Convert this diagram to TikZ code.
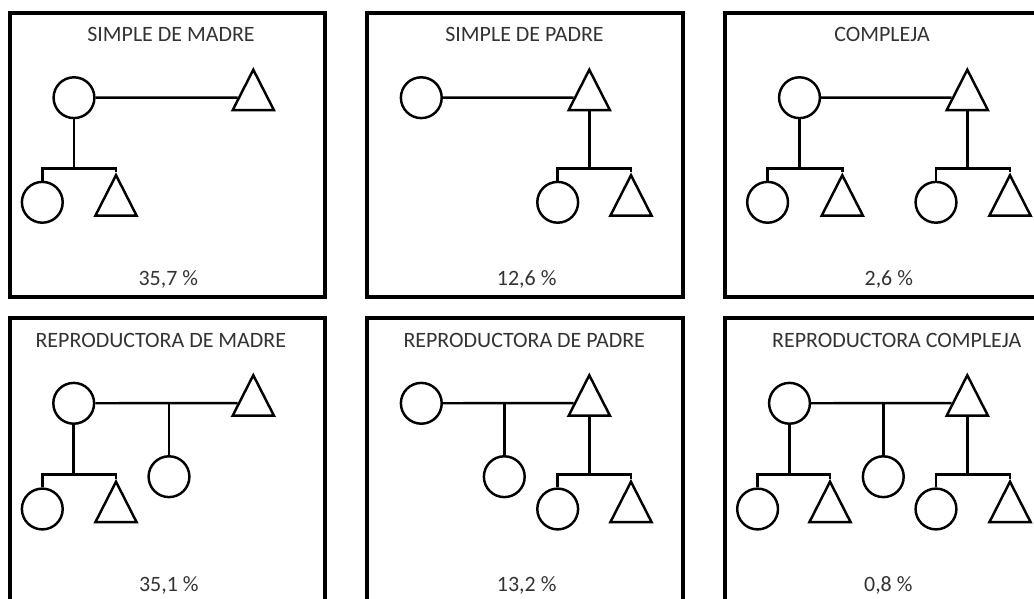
\documentclass[tikz,border=0pt]{standalone}
\usepackage{fontspec}
\setmainfont{Carlito}
\usetikzlibrary{shapes.geometric}
\tikzset{
  caja/.style={line width=2.3pt},
  linea/.style={line width=1.75pt},
  mujer/.style={circle,draw,line width=1.75pt,minimum size=1.02cm,inner sep=0pt},
  varon/.style={isosceles triangle,isosceles triangle stretches,shape border rotate=90,draw,line width=1.75pt,minimum width=1.03cm,minimum height=1.01cm,inner sep=0pt},
  rotulo/.style={anchor=base,text=black!80,font=\fontsize{15.6}{18}\selectfont}
}
\begin{document}
\begin{tikzpicture}[x=0.025cm,y=-0.025cm]
    \path[use as bounding box] (0,0) rectangle (1034,599);
    \clip (0,0) rectangle (1034,599);
    % cajas
    \draw[caja] (10,13) rectangle (325,297); \draw[caja] (367,13) rectangle (683,297); \draw[caja] (725,13) rectangle (1040,297);
    \draw[caja] (10,318) rectangle (325,602); \draw[caja] (367,318) rectangle (683,602); \draw[caja] (725,318) rectangle (1040,602);
    % titulos
    \node[rotulo] (t1) at (171,41.7) {SIMPLE DE MADRE}; \node[rotulo] (t2) at (524.5,41.7) {SIMPLE DE PADRE};
    \node[rotulo] (t3) at (882,41.7) {COMPLEJA};
    \node[rotulo] (t4) at (160.8,347) {REPRODUCTORA DE MADRE}; \node[rotulo] (t5) at (524.2,347) {REPRODUCTORA DE PADRE};
    \node[rotulo] (t6) at (896.7,347) {REPRODUCTORA COMPLEJA};
    % porcentajes
    \node[rotulo] (q1) at (168.3,285.5) {35,7 \%}; \node[rotulo] (q2) at (526.7,285.5) {12,6 \%};
    \node[rotulo] (q3) at (888.8,285.5) {2,6 \%};
    \node[rotulo] (q4) at (168.8,591) {35,1 \%}; \node[rotulo] (q5) at (526.7,591) {13,2 \%};
    \node[rotulo] (q6) at (888.3,591) {0,8 \%};
    % simple de madre
    \node[mujer] (m1) at (74,97.7) {}; \node[varon] (p1) at (253.3,97.5) {};
    \node[mujer] (a1) at (42.3,202.3) {}; \node[varon] (b1) at (116,203) {};
    \draw[linea] (m1) -- (p1);
    \draw[linea] (a1.north) -- ++(0,-12) coordinate (k1) -| (b1.apex); \draw[linea] (m1) -- (m1 |- k1);
    % simple de padre
    \node[mujer] (m2) at (421.3,97.7) {}; \node[varon] (p2) at (589.3,97.5) {};
    \node[mujer] (a2) at (557.7,202.3) {}; \node[varon] (b2) at (631,203) {};
    \draw[linea] (m2) -- (p2);
    \draw[linea] (a2.north) -- ++(0,-12) coordinate (k2) -| (b2.apex); \draw[linea] (p2) -- (p2 |- k2);
    % compleja
    \node[mujer] (m3) at (799.5,97.7) {}; \node[varon] (p3) at (967.3,97.5) {};
    \node[mujer] (a3) at (767.6,202.3) {}; \node[varon] (b3) at (842.3,203) {};
    \node[mujer] (c3) at (936,202.3) {}; \node[varon] (d3) at (1010,203) {};
    \draw[linea] (m3) -- (p3);
    \draw[linea] (a3.north) -- ++(0,-12) coordinate (k3) -| (b3.apex); \draw[linea] (m3) -- (m3 |- k3);
    \draw[linea] (c3.north) -- ++(0,-12) coordinate (l3) -| (d3.apex); \draw[linea] (p3) -- (p3 |- l3);
    % reproductora de madre
    \node[mujer] (m4) at (73.7,403.3) {}; \node[varon] (p4) at (253.3,403) {};
    \node[mujer] (e4) at (169,476.7) {};
    \node[mujer] (a4) at (42.3,509) {}; \node[varon] (b4) at (116,509.5) {};
    \draw[linea] (m4) -- (p4); \draw[linea] (e4) -- (e4 |- m4);
    \draw[linea] (a4.north) -- ++(0,-13) coordinate (k4) -| (b4.apex); \draw[linea] (m4) -- (m4 |- k4);
    % reproductora de padre
    \node[mujer] (m5) at (421.3,403.3) {}; \node[varon] (p5) at (589.3,403) {};
    \node[mujer] (e5) at (504.3,476.7) {};
    \node[mujer] (a5) at (557.7,509) {}; \node[varon] (b5) at (631,509.5) {};
    \draw[linea] (m5) -- (p5); \draw[linea] (e5) -- (e5 |- m5);
    \draw[linea] (a5.north) -- ++(0,-13) coordinate (k5) -| (b5.apex); \draw[linea] (p5) -- (p5 |- k5);
    % reproductora compleja
    \node[mujer] (m6) at (789.5,403.3) {}; \node[varon] (p6) at (967.3,403) {};
    \node[mujer] (e6) at (883.3,476.7) {};
    \node[mujer] (a6) at (757.6,509) {}; \node[varon] (b6) at (830,509.5) {};
    \node[mujer] (c6) at (936,509) {}; \node[varon] (d6) at (1010,509.5) {};
    \draw[linea] (m6) -- (p6); \draw[linea] (e6) -- (e6 |- m6);
    \draw[linea] (a6.north) -- ++(0,-13) coordinate (k6) -| (b6.apex); \draw[linea] (m6) -- (m6 |- k6);
    \draw[linea] (c6.north) -- ++(0,-13) coordinate (l6) -| (d6.apex); \draw[linea] (p6) -- (p6 |- l6);
\end{tikzpicture}
\end{document}
